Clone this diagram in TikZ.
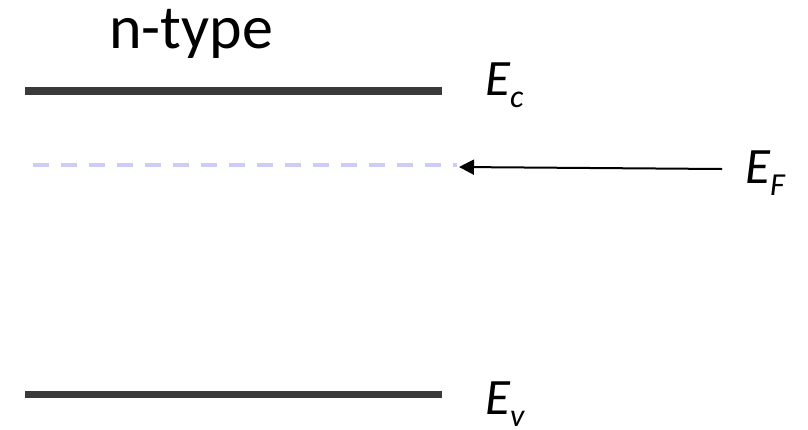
\documentclass[tikz,border=0pt]{standalone}
\usepackage{fontspec}
\setmainfont{Carlito}
\usetikzlibrary{arrows.meta}
\definecolor{bandgray}{HTML}{3A3A3A}
\definecolor{fermi}{HTML}{CCCCF8}
\tikzset{
  band/.style={draw=bandgray, line width=7.5pt},
  fermiline/.style={draw=fermi, line width=4pt, dash pattern=on 16pt off 12pt},
  lbl/.style={anchor=base west, inner sep=0pt, font=\fontsize{51}{60}\selectfont\itshape},
  ptr/.style={draw=black, line width=2pt, -{Triangle[length=15pt,width=15pt]}},
}
\newcommand{\lvl}[2]{#1\raisebox{-12pt}{\fontsize{32}{36}\selectfont #2}}
\begin{document}
\begin{tikzpicture}[x=1pt,y=-1pt]
\useasboundingbox (0,0) rectangle (808,429);
\node[anchor=base west, inner sep=0pt, font=\fontsize{62}{70}\selectfont] (title) at (109,48) {n-type};
\coordinate (ecl) at (25,91);
\coordinate (ecr) at (442,91);
\coordinate (evl) at (25,394.5);
\coordinate (evr) at (442,394.5);
\coordinate (efl) at (33,165.3);
\coordinate (efr) at (457,165.3);
\coordinate (tip) at (459,167);
\draw[band] (ecl) -- (ecr);
\draw[band] (evl) -- (evr);
\draw[fermiline] (efl) -- (efr);
\node[lbl] (ec) at (485,95) {\lvl{E}{c}};
\node[lbl] (ev) at (485,414) {\lvl{E}{v}};
\node[lbl] (ef) at (745,183) {\lvl{E}{F}};
\coordinate (tail) at (722,169);
\draw[ptr] (tail) -- (tip);
\end{tikzpicture}
\end{document}
